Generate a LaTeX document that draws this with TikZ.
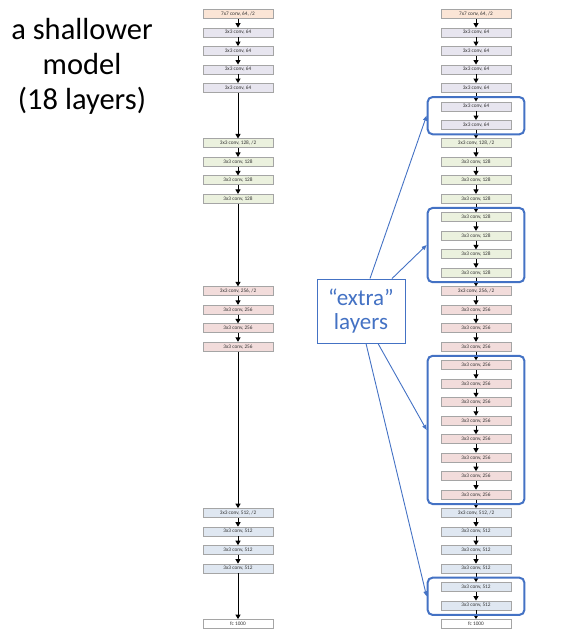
\documentclass[tikz,border=0pt]{standalone}
\usepackage{fontspec}
\setmainfont{Carlito}
\usetikzlibrary{arrows.meta,fit,positioning}
\definecolor{c7}{HTML}{FBE5D6}
\definecolor{c64}{HTML}{E7E5EF}
\definecolor{c128}{HTML}{EBF1DE}
\definecolor{c256}{HTML}{F2DCDB}
\definecolor{c512}{HTML}{DFE7F1}
\definecolor{bdr}{HTML}{A5A5A5}
\definecolor{myblue}{HTML}{4472C4}
\tikzset{
  layer/.style={draw=bdr, line width=0.8pt, minimum width=70pt, minimum height=9pt, inner sep=0pt,
    font=\fontsize{5.3}{6}\selectfont, text=black!80},
  blk/.style={-{Triangle[length=4.5pt,width=5pt]}, line width=1pt, black},
  grp/.style={draw=myblue, line width=2pt, rounded corners=5pt, inner xsep=13pt, inner ysep=4.5pt},
  bluearrow/.style={-{Triangle[length=5pt,width=4pt]}, line width=0.9pt, myblue},
}
\begin{document}
\begin{tikzpicture}[x=1pt,y=-1pt]
\useasboundingbox (0,0) rectangle (566,637);
\def\dy{18.485}
% right column
\node[layer,fill=c7] (R0) at (476,14) {7x7 conv, 64, /2};
\foreach \i in {1,...,6} \node[layer,fill=c64] (R\i) at (476,{14+\i*\dy}) {3x3 conv, 64};
\node[layer,fill=c128] (R7) at (476,{14+7*\dy}) {3x3 conv, 128, /2};
\foreach \i in {8,...,14} \node[layer,fill=c128] (R\i) at (476,{14+\i*\dy}) {3x3 conv, 128};
\node[layer,fill=c256] (R15) at (476,{14+15*\dy}) {3x3 conv, 256, /2};
\foreach \i in {16,...,26} \node[layer,fill=c256] (R\i) at (476,{14+\i*\dy}) {3x3 conv, 256};
\node[layer,fill=c512] (R27) at (476,{14+27*\dy}) {3x3 conv, 512, /2};
\foreach \i in {28,...,32} \node[layer,fill=c512] (R\i) at (476,{14+\i*\dy}) {3x3 conv, 512};
\node[layer,fill=white] (R33) at (476,{14+33*\dy}) {fc 1000};
\foreach \i [evaluate=\i as \j using int(\i+1)] in {0,...,32} \draw[blk] (R\i) -- (R\j);
% left column
\node[layer,fill=c7] (L0) at (238,14) {7x7 conv, 64, /2};
\foreach \i in {1,...,4} \node[layer,fill=c64] (L\i) at (238,{14+\i*\dy}) {3x3 conv, 64};
\node[layer,fill=c128] (L7) at (238,{14+7*\dy}) {3x3 conv, 128, /2};
\foreach \i in {8,...,10} \node[layer,fill=c128] (L\i) at (238,{14+\i*\dy}) {3x3 conv, 128};
\node[layer,fill=c256] (L15) at (238,{14+15*\dy}) {3x3 conv, 256, /2};
\foreach \i in {16,...,18} \node[layer,fill=c256] (L\i) at (238,{14+\i*\dy}) {3x3 conv, 256};
\node[layer,fill=c512] (L27) at (238,{14+27*\dy}) {3x3 conv, 512, /2};
\foreach \i in {28,...,30} \node[layer,fill=c512] (L\i) at (238,{14+\i*\dy}) {3x3 conv, 512};
\node[layer,fill=white] (L33) at (238,{14+33*\dy}) {fc 1000};
\foreach \a/\b in {0/1,1/2,2/3,3/4,4/7,7/8,8/9,9/10,10/15,15/16,16/17,17/18,18/27,27/28,28/29,29/30,30/33}
  \draw[blk] (L\a) -- (L\b);
% groups
\node[grp, fit=(R5)(R6)] (g1) {};
\node[grp, fit=(R11)(R14)] (g2) {};
\node[grp, fit=(R19)(R26)] (g3) {};
\node[grp, fit=(R31)(R32)] (g4) {};
% extra box
\node[draw=myblue, line width=0.9pt, fill=white, minimum width=88pt, minimum height=64pt, align=center,
  text=myblue, font=\fontsize{23}{24}\selectfont] (ex) at (361,311) {“extra”\\layers};
\draw[bluearrow] ([xshift=9pt]ex.north) -- (g1.west);
\draw[bluearrow] ([xshift=31pt]ex.north) -- (g2.west);
\draw[bluearrow] ([xshift=17pt]ex.south) -- (g3.west);
\draw[bluearrow] ([xshift=5pt]ex.south) -- (g4.west);
% title
\node[align=center, font=\fontsize{30.5}{35}\selectfont] (title) at (82,66) {a shallower\\model\\(18 layers)};
\end{tikzpicture}
\end{document}
